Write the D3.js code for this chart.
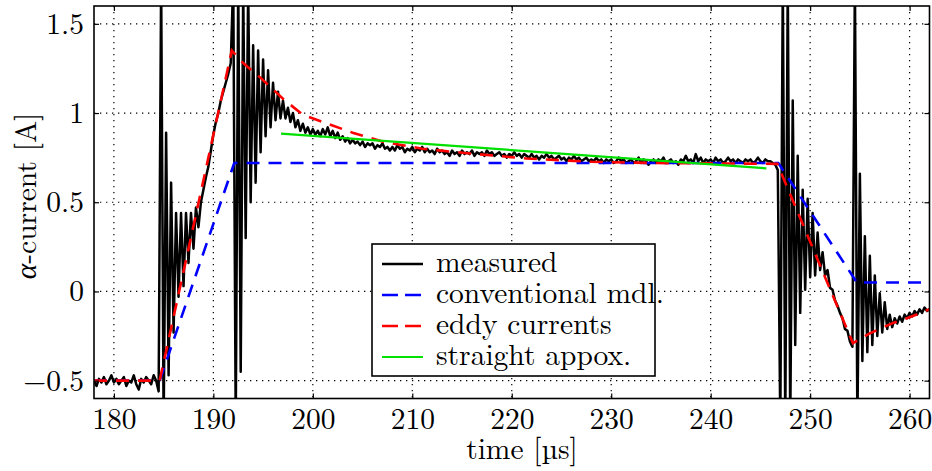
<!DOCTYPE html>
<html>
<head>
<meta charset="utf-8">
<script src="https://cdn.jsdelivr.net/npm/d3@7"></script>
<style>
    body { margin: 0; background: #fff; }
</style>
</head>
<body>
<div id="chart"></div>
<script>
// measured alpha-current, sampled every 0.25 us from 178 us
var tStart = 178;
var tStep = 0.25;
var measured = [
    -0.50, -0.53, -0.49, -0.51, -0.48, -0.52, -0.50, -0.47,
    -0.51, -0.49, -0.52, -0.50, -0.48, -0.53, -0.50, -0.51,
    -0.47, -0.52, -0.55, -0.49, -0.51, -0.48, -0.50, -0.52,
    -0.47, -0.50, -0.56, 1.75, -0.75, 0.89, -0.47, 0.61,
    -0.23, 0.44, -0.03, 0.44, 0.03, 0.44, 0.16, 0.44,
    0.24, 0.47, 0.36, 0.50, 0.57, 0.64, 0.70, 0.79,
    0.88, 0.95, 1.00, 1.07, 1.12, 1.17, 1.22, 1.28,
    1.75, -0.75, 1.75, -0.45, 1.70, 0.30, 1.70, 0.50,
    1.38, 0.61, 1.35, 0.78, 1.30, 0.87, 1.24, 0.92,
    1.17, 0.96, 1.12, 0.97, 1.07, 0.97, 1.03, 0.95,
    1.00, 0.92, 0.96, 0.90, 0.94, 0.89, 0.92, 0.88,
    0.91, 0.88, 0.90, 0.87, 0.91, 0.88, 0.92, 0.87,
    0.90, 0.86, 0.89, 0.85, 0.87, 0.84, 0.86, 0.83,
    0.85, 0.83, 0.84, 0.82, 0.84, 0.81, 0.83, 0.82,
    0.83, 0.80, 0.82, 0.81, 0.83, 0.80, 0.81, 0.79,
    0.81, 0.79, 0.82, 0.80, 0.81, 0.78, 0.80, 0.79,
    0.81, 0.78, 0.80, 0.79, 0.81, 0.78, 0.80, 0.78,
    0.79, 0.77, 0.80, 0.78, 0.79, 0.77, 0.78, 0.76,
    0.79, 0.77, 0.78, 0.76, 0.79, 0.77, 0.78, 0.77,
    0.79, 0.76, 0.78, 0.77, 0.78, 0.76, 0.79, 0.77,
    0.78, 0.76, 0.77, 0.78, 0.76, 0.77, 0.75, 0.77,
    0.76, 0.78, 0.76, 0.77, 0.75, 0.77, 0.76, 0.75,
    0.77, 0.75, 0.76, 0.74, 0.76, 0.75, 0.77, 0.75,
    0.76, 0.74, 0.75, 0.76, 0.74, 0.75, 0.73, 0.75,
    0.74, 0.76, 0.74, 0.75, 0.73, 0.74, 0.75, 0.73,
    0.74, 0.73, 0.75, 0.73, 0.74, 0.72, 0.74, 0.73,
    0.74, 0.72, 0.73, 0.75, 0.73, 0.74, 0.72, 0.73,
    0.74, 0.72, 0.73, 0.75, 0.72, 0.74, 0.73, 0.71,
    0.73, 0.74, 0.72, 0.74, 0.73, 0.75, 0.72, 0.73,
    0.74, 0.72, 0.73, 0.71, 0.74, 0.73, 0.76, 0.73,
    0.74, 0.72, 0.77, 0.73, 0.75, 0.72, 0.74, 0.73,
    0.74, 0.72, 0.75, 0.73, 0.74, 0.72, 0.73, 0.75,
    0.73, 0.74, 0.72, 0.74, 0.73, 0.72, 0.74, 0.73,
    0.74, 0.72, 0.73, 0.75, 0.73, 0.72, 0.74, 0.73,
    0.73, 0.72, 0.71, 0.68, -0.75, 1.75, -0.75, 1.75,
    -0.75, 1.07, -0.30, 0.76, -0.12, 0.57, 0.01, 0.52,
    0.08, 0.44, 0.09, 0.33, 0.12, 0.22, 0.09, 0.12,
    0.02, 0.01, -0.05, -0.08, -0.12, -0.15, -0.21, -0.22,
    -0.28, -0.31, 1.75, -0.75, 0.66, -0.39, 0.31, -0.34,
    0.20, -0.30, 0.09, -0.25, -0.01, -0.23, -0.06, -0.21,
    -0.13, -0.20, -0.15, -0.18, -0.14, -0.17, -0.13, -0.15,
    -0.12, -0.14, -0.11, -0.13, -0.10, -0.12, -0.09, -0.11,
    -0.10
];

// conventional model
var convT = [178, 184.6, 192.1, 246.8, 254.7, 262];
var convV = [-0.5, -0.5, 0.72, 0.72, 0.05, 0.05];

// eddy current model
var eddyT = [178, 184.6, 191.85, 193, 194.7, 197, 199, 201.5, 204, 207, 211, 215.5, 221.5, 228, 234, 240, 246.7, 254.3, 256, 258.4, 260, 262];
var eddyV = [-0.5, -0.5, 1.35, 1.28, 1.20, 1.08, 0.99, 0.94, 0.89, 0.84, 0.80, 0.775, 0.745, 0.727, 0.72, 0.718, 0.715, -0.29, -0.235, -0.175, -0.145, -0.10];

// straight approximation
var straightT = [196.8, 245.6];
var straightV = [0.885, 0.69];

var xTicks = [180, 190, 200, 210, 220, 230, 240, 250, 260];
var yTicks = [-0.5, 0, 0.5, 1, 1.5];

var legendItems = ["measured", "conventional mdl.", "eddy currents", "straight appox."];

var svg_w = 932;
var svg_h = 471;
var plot_l = 94, plot_r = 929.5, plot_t = 6, plot_b = 398.5;
var font_size = "29.5px";
var font = "'Latin Modern Roman', serif";

var svg = d3.select("#chart").append("svg")
    .attr("width", svg_w)
    .attr("height", svg_h);

var x = d3.scaleLinear().domain([178, 262]).range([plot_l, plot_r]);
var y = d3.scaleLinear().domain([-0.6, 1.6]).range([plot_b, plot_t]);

var zip = function (ts, vs) {
    return ts.map(function (t, i) { return [t, vs[i]]; });
}

var measuredPts = measured.map(function (v, i) { return [tStart + i * tStep, v]; });

svg.append("clipPath").attr("id", "plotClip")
    .append("rect")
    .attr("x", plot_l)
    .attr("y", plot_t)
    .attr("width", plot_r - plot_l)
    .attr("height", plot_b - plot_t);

// dotted grid
var grid = svg.append("g");
for (var i = 0; i < xTicks.length; i++) {
    grid.append("line")
        .attr("x1", x(xTicks[i])).attr("x2", x(xTicks[i]))
        .attr("y1", plot_t).attr("y2", plot_b)
        .attr("stroke", "#000").attr("stroke-width", 1.2)
        .attr("stroke-dasharray", "1.3,4.7");
}
for (var i = 0; i < yTicks.length; i++) {
    grid.append("line")
        .attr("x1", plot_l).attr("x2", plot_r)
        .attr("y1", y(yTicks[i])).attr("y2", y(yTicks[i]))
        .attr("stroke", "#000").attr("stroke-width", 1.2)
        .attr("stroke-dasharray", "1.3,4.7");
}

var line = d3.line()
    .x(function (d) { return x(d[0]); })
    .y(function (d) { return y(d[1]); });

var lines = svg.append("g").attr("clip-path", "url(#plotClip)");

lines.append("path")
    .attr("d", line(measuredPts))
    .attr("fill", "none")
    .attr("stroke", "#000")
    .attr("stroke-width", 2.5)
    .attr("stroke-linejoin", "round");

lines.append("path")
    .attr("d", line(zip(convT, convV)))
    .attr("fill", "none")
    .attr("stroke", "#0000ff")
    .attr("stroke-width", 2.6)
    .attr("stroke-dasharray", "13,9");

lines.append("path")
    .attr("d", line(zip(eddyT, eddyV)))
    .attr("fill", "none")
    .attr("stroke", "#ff0000")
    .attr("stroke-width", 2.6)
    .attr("stroke-dasharray", "13,9");

lines.append("path")
    .attr("d", line(zip(straightT, straightV)))
    .attr("fill", "none")
    .attr("stroke", "#00e000")
    .attr("stroke-width", 2.2);

// axes with inward ticks on all sides
var fmtY = function (d) { return d < 0 ? "\u2212" + Math.abs(d) : "" + d; };

svg.append("g")
    .attr("transform", "translate(0," + plot_b + ")")
    .call(d3.axisBottom(x).tickValues(xTicks).tickSize(-5).tickPadding(10).tickFormat(d3.format("d")));
svg.append("g")
    .attr("transform", "translate(0," + plot_t + ")")
    .call(d3.axisTop(x).tickValues(xTicks).tickSize(-5).tickFormat(""));
svg.append("g")
    .attr("transform", "translate(" + plot_l + ",0)")
    .call(d3.axisLeft(y).tickValues(yTicks).tickSize(-5).tickPadding(10).tickFormat(fmtY));
svg.append("g")
    .attr("transform", "translate(" + plot_r + ",0)")
    .call(d3.axisRight(y).tickValues(yTicks).tickSize(-5).tickFormat(""));

svg.selectAll(".domain").remove();
svg.selectAll(".tick line").attr("stroke", "#000").attr("stroke-width", 1.2);
svg.selectAll(".tick text")
    .style("font-family", font)
    .style("font-size", font_size)
    .attr("fill", "#000");

// frame
svg.append("rect")
    .attr("x", plot_l).attr("y", plot_t)
    .attr("width", plot_r - plot_l).attr("height", plot_b - plot_t)
    .attr("fill", "none")
    .attr("stroke", "#000")
    .attr("stroke-width", 1.6);

// axis labels
svg.append("text")
    .attr("x", 522)
    .attr("y", 459)
    .attr("text-anchor", "middle")
    .style("font-family", font)
    .style("font-size", font_size)
    .text("time [\u00b5s]");

var yl = svg.append("text")
    .attr("transform", "translate(36,196) rotate(-90)")
    .attr("text-anchor", "middle")
    .style("font-family", font)
    .style("font-size", font_size);
yl.append("tspan").style("font-style", "italic").text("\u03b1");
yl.append("tspan").text("-current [A]");

// legend
var lg = svg.append("g");
lg.append("rect")
    .attr("x", 372).attr("y", 244)
    .attr("width", 283).attr("height", 132)
    .attr("fill", "#fff")
    .attr("stroke", "#000")
    .attr("stroke-width", 1.6);

var legendStyle = [
    { stroke: "#000", dash: null, w: 2.5 },
    { stroke: "#0000ff", dash: "16,7", w: 2.6 },
    { stroke: "#ff0000", dash: "16,7", w: 2.6 },
    { stroke: "#00e000", dash: null, w: 2.2 }
];
for (var i = 0; i < legendItems.length; i++) {
    var cy = 264 + i * 31;
    var st = legendStyle[i];
    var ln = lg.append("line")
        .attr("x1", 382).attr("x2", 423)
        .attr("y1", cy).attr("y2", cy)
        .attr("stroke", st.stroke)
        .attr("stroke-width", st.w);
    if (st.dash) ln.attr("stroke-dasharray", st.dash);
    lg.append("text")
        .attr("x", 436)
        .attr("y", cy + 8)
        .style("font-family", font)
        .style("font-size", font_size)
        .text(legendItems[i]);
}
</script>
</body>
</html>
